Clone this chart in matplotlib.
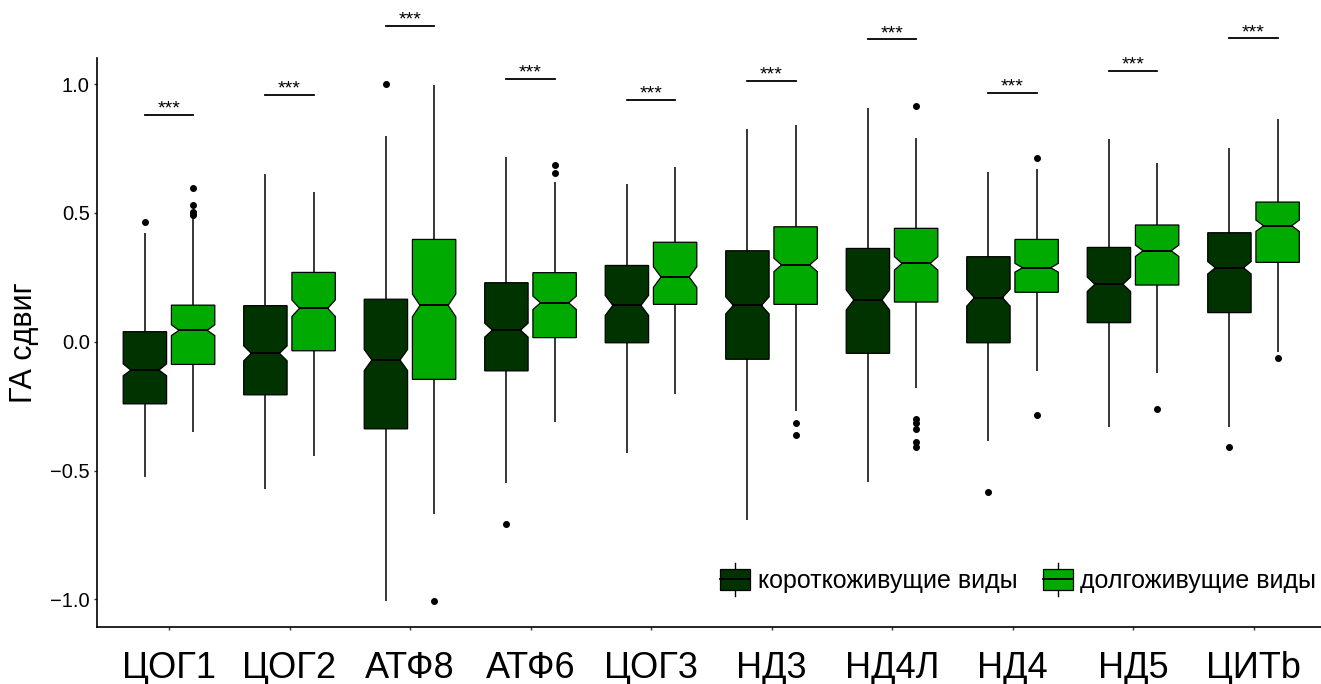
import matplotlib
matplotlib.use('Agg')
import matplotlib.pyplot as plt
from matplotlib.legend_handler import HandlerBase
from matplotlib.patches import Patch, Rectangle
from matplotlib.lines import Line2D

plt.rcParams['font.family'] = ['Liberation Sans', 'DejaVu Sans']

genes = ['ЦОГ1', 'ЦОГ2', 'АТФ8', 'АТФ6', 'ЦОГ3', 'НД3', 'НД4Л', 'НД4', 'НД5', 'ЦИТb']
groups = ['короткоживущие виды', 'долгоживущие виды']
colors = ['#003300', '#00aa00']

# короткоживущие виды
short_q1 = [-0.241, -0.206, -0.338, -0.113, -0.004, -0.068, -0.045, -0.004, 0.074, 0.113]
short_med = [-0.110, -0.045, -0.071, 0.045, 0.141, 0.141, 0.162, 0.171, 0.223, 0.287]
short_q3 = [0.039, 0.140, 0.165, 0.229, 0.296, 0.353, 0.362, 0.330, 0.366, 0.423]
short_cilo = [-0.132, -0.074, -0.112, 0.018, 0.102, 0.108, 0.123, 0.138, 0.195, 0.263]
short_cihi = [-0.086, -0.016, -0.030, 0.072, 0.180, 0.174, 0.201, 0.204, 0.251, 0.311]
short_wlo = [-0.526, -0.572, -1.005, -0.547, -0.433, -0.692, -0.543, -0.385, -0.330, -0.330]
short_whi = [0.423, 0.651, 0.798, 0.718, 0.611, 0.824, 0.908, 0.657, 0.785, 0.750]
short_out = [[0.466], [], [1.0], [-0.707], [], [], [], [-0.583], [], [-0.409]]

# долгоживущие виды
long_q1 = [-0.088, -0.035, -0.146, 0.016, 0.145, 0.145, 0.154, 0.192, 0.220, 0.308]
long_med = [0.044, 0.130, 0.141, 0.151, 0.251, 0.298, 0.304, 0.287, 0.353, 0.450]
long_q3 = [0.142, 0.269, 0.397, 0.268, 0.386, 0.446, 0.440, 0.397, 0.453, 0.542]
long_cilo = [0.024, 0.098, 0.097, 0.125, 0.211, 0.272, 0.278, 0.270, 0.331, 0.428]
long_cihi = [0.066, 0.162, 0.185, 0.177, 0.291, 0.324, 0.330, 0.304, 0.375, 0.472]
long_wlo = [-0.352, -0.444, -0.670, -0.310, -0.203, -0.269, -0.178, -0.112, -0.123, -0.039]
long_whi = [0.479, 0.582, 0.997, 0.621, 0.677, 0.840, 0.792, 0.670, 0.692, 0.863]
long_out = [[0.598, 0.530, 0.504, 0.498, 0.492], [], [-1.006], [0.687, 0.653], [], [-0.314, -0.362],
            [0.916, -0.301, -0.314, -0.338, -0.390, -0.407], [0.713, -0.283], [-0.262], [-0.062]]

sig_y = [0.880, 0.957, 1.225, 1.021, 0.937, 1.012, 1.173, 0.965, 1.052, 1.177]
sig_label = '***'

offset = 0.2
box_w = 0.36
waist = 0.65


def draw_box(ax, x, q1, cilo, med, cihi, q3, wlo, whi, out, color):
    h = box_w / 2
    n = h * waist
    ax.vlines(x, wlo, q1, color='black', lw=1.1, zorder=1)
    ax.vlines(x, q3, whi, color='black', lw=1.1, zorder=1)
    xs = [x - h, x + h, x + h, x + n, x + h, x + h, x - h, x - h, x - n, x - h]
    ys = [q1, q1, cilo, med, cihi, q3, q3, cihi, med, cilo]
    ax.fill(xs, ys, facecolor=color, edgecolor='black', lw=0.9, zorder=2)
    ax.plot([x - n, x + n], [med, med], color='black', lw=1.4, zorder=3)
    if out:
        ax.plot([x] * len(out), out, 'o', color='black', ms=4, zorder=3)


class BoxKey(HandlerBase):
    def create_artists(self, legend, orig_handle, xdescent, ydescent, width, height, fontsize, trans):
        x0, y0 = -xdescent, -ydescent
        cx = x0 + width / 2
        whisk = Line2D([cx, cx], [y0 - 0.3 * height, y0 + 1.3 * height], color='black', lw=1, transform=trans)
        box = Rectangle((x0, y0), width, height, facecolor=orig_handle.get_facecolor(),
                        edgecolor='black', lw=0.9, transform=trans)
        med = Line2D([x0, x0 + width], [y0 + height / 2] * 2, color='black', lw=1.3, transform=trans)
        return [whisk, box, med]


fig = plt.figure(figsize=(13.21, 6.84), dpi=100)
ax = fig.add_axes([0.0732, 0.0833, 0.9268, 0.8319])

for i in range(len(genes)):
    pos = i + 1
    draw_box(ax, pos - offset, short_q1[i], short_cilo[i], short_med[i], short_cihi[i], short_q3[i],
             short_wlo[i], short_whi[i], short_out[i], colors[0])
    draw_box(ax, pos + offset, long_q1[i], long_cilo[i], long_med[i], long_cihi[i], long_q3[i],
             long_wlo[i], long_whi[i], long_out[i], colors[1])
    ax.plot([pos - offset, pos + offset], [sig_y[i], sig_y[i]], color='black', lw=1.3, clip_on=False)
    ax.annotate(sig_label, xy=(pos, sig_y[i]), xytext=(0, 1), textcoords='offset points',
                ha='center', va='baseline', fontsize=14, annotation_clip=False)

ax.set_xlim(0.4, 10.56)
ax.set_ylim(-1.107, 1.101)
ax.set_xticks(range(1, len(genes) + 1))
ax.set_xticklabels(genes, fontsize=26)
ax.set_yticks([-1.0, -0.5, 0.0, 0.5, 1.0])
ax.set_yticklabels(['\u22121.0', '\u22120.5', '0.0', '0.5', '1.0'], fontsize=14.5)
ax.tick_params(axis='both', length=2.5, width=1, color='#333333', pad=2.5)
ax.tick_params(axis='x', pad=15)
ax.set_ylabel('ГА сдвиг', fontsize=22, labelpad=8)
for s in ['top', 'right']:
    ax.spines[s].set_visible(False)
for s in ['left', 'bottom']:
    ax.spines[s].set_linewidth(1.2)

handles = [Patch(facecolor=c) for c in colors]
ax.legend(handles, groups, handler_map={Patch: BoxKey()}, ncol=2, frameon=False,
          fontsize=18, handlelength=1.2, handleheight=0.88, handletextpad=0.3,
          columnspacing=1.0, borderpad=0, borderaxespad=0,
          loc='center right', bbox_to_anchor=(0.996, 0.081))

fig.savefig('out.png', dpi=100)
